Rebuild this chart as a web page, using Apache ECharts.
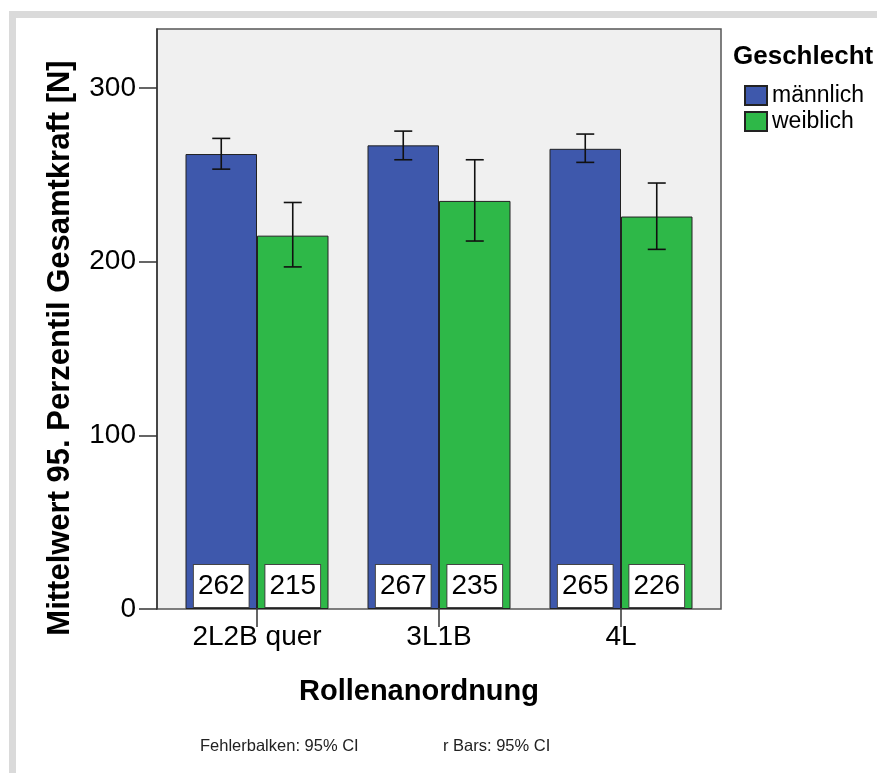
<!DOCTYPE html>
<html>
<head>
<meta charset="utf-8">
<script src="https://cdn.jsdelivr.net/npm/echarts@6/dist/echarts.min.js"></script>
<style>
  html, body { margin: 0; padding: 0; background: #ffffff; }
  #chart { width: 877px; height: 773px; }
</style>
</head>
<body>
<div id="chart"></div>
<script>
// Roller arrangements and mean 95th-percentile total force per sex
const categories = ['2L2B quer', '3L1B', '4L'];
const seriesNames = ['männlich', 'weiblich'];
const maleMean = [262, 267, 265];
const femaleMean = [215, 235, 226];
// 95% confidence interval bounds
const maleLow = [253.3, 258.7, 257.2];
const maleHigh = [271.0, 275.2, 273.5];
const femaleLow = [197.0, 211.9, 207.1];
const femaleHigh = [234.1, 258.7, 245.3];
const yTicks = [0, 100, 200, 300];
const yMax = 334;

const FONT = '"Liberation Sans", Arial, sans-serif';
const BLUE = '#3E58AC';
const GREEN = '#2EB848';
const BAR_W = 71.5;

function ciData(low, high) {
  return categories.map((c, i) => [i, low[i], high[i]]);
}

function errorBar(offset) {
  return function (params, api) {
    const lo = api.coord([api.value(0), api.value(1)]);
    const hi = api.coord([api.value(0), api.value(2)]);
    const x = lo[0] + offset;
    const cap = 9;
    const style = { stroke: '#111', lineWidth: 1.6 };
    return {
      type: 'group',
      children: [
        { type: 'line', shape: { x1: x, y1: hi[1], x2: x, y2: lo[1] }, style },
        { type: 'line', shape: { x1: x - cap, y1: hi[1], x2: x + cap, y2: hi[1] }, style },
        { type: 'line', shape: { x1: x - cap, y1: lo[1], x2: x + cap, y2: lo[1] }, style }
      ]
    };
  };
}

const valueLabel = {
  show: true,
  position: 'insideBottom',
  distance: 2,
  color: '#000',
  fontFamily: FONT,
  fontSize: 28,
  lineHeight: 28,
  backgroundColor: '#ffffff',
  borderColor: '#444',
  borderWidth: 1,
  padding: [7, 4, 7, 4]
};

const chart = echarts.init(document.getElementById('chart'), null, { renderer: 'canvas' });

chart.setOption({
  animation: false,
  backgroundColor: '#ffffff',
  textStyle: { fontFamily: FONT },
  grid: [
    { left: 157, top: 29, width: 564, height: 580, show: true,
      backgroundColor: '#F0F0F0', borderColor: '#555', borderWidth: 1.5 },
    { left: 166, top: 29, width: 546, height: 580 }
  ],
  xAxis: [
    { gridIndex: 0, type: 'value', min: 0, max: 1, show: false },
    { gridIndex: 1, type: 'category', data: categories,
      axisLine: { show: false },
      axisTick: { show: true, alignWithLabel: true, length: 18, lineStyle: { color: '#333', width: 1.5 } },
      axisLabel: { color: '#000', fontFamily: FONT, fontSize: 28, margin: 14 } }
  ],
  yAxis: [
    { gridIndex: 0, type: 'value', min: 0, max: yMax,
      splitLine: { show: false },
      axisLine: { show: true, lineStyle: { color: '#333', width: 1.5 } },
      axisTick: { show: true, length: 18, customValues: yTicks, lineStyle: { color: '#333', width: 1.5 } },
      axisLabel: { customValues: yTicks, color: '#000', fontFamily: FONT, fontSize: 28, margin: 21 } },
    { gridIndex: 1, type: 'value', min: 0, max: yMax, show: false }
  ],
  legend: {
    data: seriesNames,
    orient: 'vertical',
    left: 744,
    top: 84,
    padding: 0,
    icon: 'rect',
    itemWidth: 22,
    itemHeight: 19,
    itemGap: 3,
    textStyle: { color: '#000', fontFamily: FONT, fontSize: 23, lineHeight: 22 }
  },
  series: [
    { name: seriesNames[0], type: 'bar', xAxisIndex: 1, yAxisIndex: 1,
      data: maleMean, barWidth: BAR_W, barGap: '0%',
      itemStyle: { color: BLUE, borderColor: '#222', borderWidth: 1 },
      label: valueLabel },
    { name: seriesNames[1], type: 'bar', xAxisIndex: 1, yAxisIndex: 1,
      data: femaleMean, barWidth: BAR_W, barGap: '0%',
      itemStyle: { color: GREEN, borderColor: '#222', borderWidth: 1 },
      label: valueLabel },
    { type: 'custom', xAxisIndex: 1, yAxisIndex: 1, z: 5,
      renderItem: errorBar(-BAR_W / 2), encode: { x: 0, y: [1, 2] },
      data: ciData(maleLow, maleHigh) },
    { type: 'custom', xAxisIndex: 1, yAxisIndex: 1, z: 5,
      renderItem: errorBar(BAR_W / 2), encode: { x: 0, y: [1, 2] },
      data: ciData(femaleLow, femaleHigh) }
  ],
  graphic: [
    // outer frame bands
    { type: 'rect', shape: { x: 9, y: 11, width: 868, height: 7 }, style: { fill: '#DADADA' }, silent: true },
    { type: 'rect', shape: { x: 9, y: 11, width: 7, height: 762 }, style: { fill: '#DADADA' }, silent: true },
    // legend title
    { type: 'text', x: 733, y: 57,
      style: { text: 'Geschlecht', fill: '#000', font: 'bold 26px ' + FONT, textVerticalAlign: 'middle' } },
    // y axis title
    { type: 'text', x: 60, y: 348, rotation: Math.PI / 2,
      style: { text: 'Mittelwert 95. Perzentil Gesamtkraft [N]', fill: '#000', font: 'bold 31px ' + FONT,
               textAlign: 'center', textVerticalAlign: 'middle' } },
    // x axis title
    { type: 'text', x: 419, y: 692,
      style: { text: 'Rollenanordnung', fill: '#000', font: 'bold 29px ' + FONT,
               textAlign: 'center', textVerticalAlign: 'middle' } },
    // footnotes
    { type: 'text', x: 200, y: 746,
      style: { text: 'Fehlerbalken: 95% CI', fill: '#222', font: '16.5px ' + FONT, textVerticalAlign: 'middle' } },
    { type: 'text', x: 443, y: 746,
      style: { text: 'r Bars: 95% CI', fill: '#222', font: '16.5px ' + FONT, textVerticalAlign: 'middle' } }
  ]
});
</script>
</body>
</html>
